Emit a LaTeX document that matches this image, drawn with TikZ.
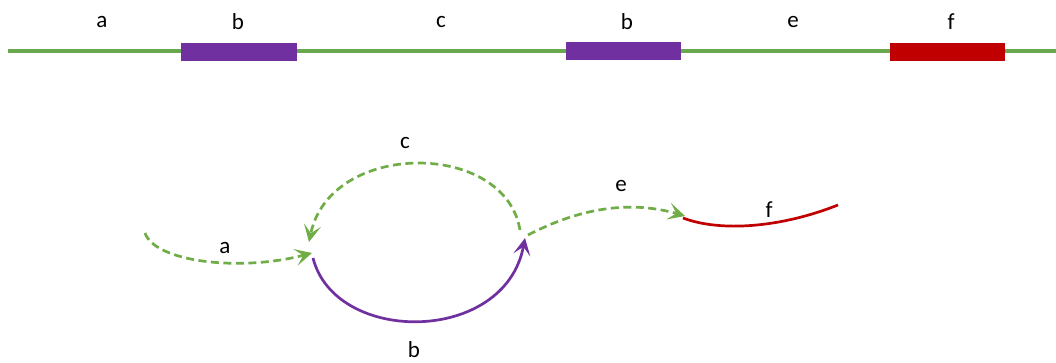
\documentclass[tikz,border=0pt]{standalone}
\usepackage{fontspec}
\setmainfont{Carlito}
\usetikzlibrary{arrows.meta}
\definecolor{gr}{RGB}{106,168,79}
\definecolor{gl}{RGB}{112,173,71}
\definecolor{pu}{RGB}{112,48,160}
\definecolor{rd}{RGB}{192,0,0}
\tikzset{
  lbl/.style={font=\fontsize{23}{26}\selectfont, inner sep=0pt, anchor=center},
  seg/.style={inner sep=0pt, minimum height=18pt},
  tip/.style={-{Stealth[length=17pt,width=17pt,inset=8pt]}},
  gdash/.style={gl, line width=2.7pt, dash pattern=on 8pt off 4.5pt, tip},
  psolid/.style={pu, line width=2.7pt, tip},
  rsolid/.style={rd, line width=2.7pt},
}
\begin{document}
\begin{tikzpicture}[x=1pt,y=-1pt]
\useasboundingbox (0,0) rectangle (1056,363);
% top line
\coordinate (L0) at (8,51);
\coordinate (L1) at (1056,51);
\draw[gr, line width=4.5pt] (L0) -- (L1);
\node[seg, fill=pu, minimum width=116pt] (B1) at (239,52) {};
\node[seg, fill=pu, minimum width=115pt] (B2) at (623.5,51) {};
\node[seg, fill=rd, minimum width=115pt] (F1) at (947.5,52) {};
\node[lbl] (ta) at (102,22) {a};
\node[lbl] (tb1) at (238,22) {b};
\node[lbl] (tc) at (441,22) {c};
\node[lbl] (tb2) at (627,22) {b};
\node[lbl] (te) at (793,22) {e};
\node[lbl] (tf) at (951,22) {f};
% lower graph
\coordinate (a0) at (145,233);
\coordinate (n1) at (312,253);
\coordinate (n1c) at (309,242);
\coordinate (n1b) at (313,258);
\coordinate (n2) at (525,238);
\coordinate (n2c) at (520,230);
\coordinate (n2e) at (528,235);
\coordinate (n3) at (685,216);
\coordinate (n3f) at (683,218);
\coordinate (f1) at (838,205);
\draw[gdash] (a0) .. controls (155,262) and (240,272) .. (n1);
\draw[gdash] (n2c) .. controls (505,140) and (330,140) .. (n1c);
\draw[psolid] (n1b) .. controls (335,345) and (505,345) .. (n2);
\draw[gdash] (n2e) .. controls (580,208) and (630,200) .. (n3);
\draw[rsolid] (n3f) .. controls (720,232) and (780,228) .. (f1);
\node[lbl] (la) at (225,248) {a};
\node[lbl] (lc) at (405,143) {c};
\node[lbl] (lb) at (414,350) {b};
\node[lbl] (le) at (621,186) {e};
\node[lbl] (lf) at (769,210) {f};
\end{tikzpicture}
\end{document}
